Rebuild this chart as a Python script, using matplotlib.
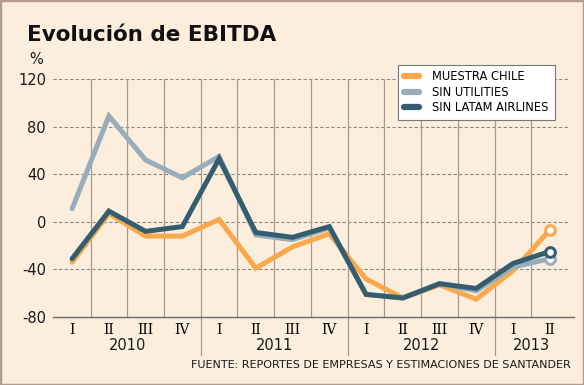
import matplotlib.pyplot as plt
from matplotlib.patches import Rectangle
import numpy as np

quarters = ['I', 'II', 'III', 'IV', 'I', 'II', 'III', 'IV', 'I', 'II', 'III', 'IV', 'I', 'II']
years = ['2010', '2011', '2012', '2013']
year_centers = [1.5, 5.5, 9.5, 12.5]

muestra_chile = [-34, 7, -12, -12, 2, -39, -21, -10, -48, -64, -53, -65, -41, -7]
sin_utilities = [11, 89, 52, 37, 55, -11, -15, -5, -61, -64, -52, -58, -38, -31]
sin_latam = [-31, 9, -8, -4, 53, -9, -13, -4, -61, -64, -52, -56, -35, -25]

series = [
    ('MUESTRA CHILE', muestra_chile, '#f9a94b'),
    ('SIN UTILITIES', sin_utilities, '#98adbb'),
    ('SIN LATAM AIRLINES', sin_latam, '#355d70'),
]

BG = '#fbeedc'
fig = plt.figure(figsize=(5.84, 3.85), dpi=100, facecolor=BG)
fig.patches.append(Rectangle((0, 0), 1, 1, transform=fig.transFigure, fill=False,
                             edgecolor='#b39c8c', linewidth=2.5))

ax = fig.add_axes([0.0908, 0.1766, 0.882, 0.618])
ax.set_facecolor(BG)
x = np.arange(len(quarters))
ax.set_xlim(-0.52, 13.5)
ax.set_ylim(-80, 120)

for yv in [120, 80, 40, 0, -40]:
    ax.axhline(yv, color='#8a8580', linestyle=(0, (3, 2)), linewidth=0.8, zorder=1)
for xv in np.arange(0.5, 13.5, 1.0):
    ax.axvline(xv, color='#a59a90', linewidth=0.9, zorder=1)
# year separators extend below the axis
for xv in [3.5, 7.5, 11.5]:
    ax.plot([xv, xv], [-80, -112], color='#a59a90', linewidth=0.9, clip_on=False)

# draw order: light, dark, orange on top
for i in [1, 2, 0]:
    name, vals, col = series[i]
    ax.plot(x, vals, color=col, linewidth=3.6, solid_capstyle='round',
            solid_joinstyle='miter', zorder=3 + i)
for i in [1, 2, 0]:
    name, vals, col = series[i]
    ax.plot(x[-1], vals[-1], 'o', markersize=7, markerfacecolor='white',
            markeredgecolor=col, markeredgewidth=2.2, zorder=10, clip_on=False)

for s in ['top', 'right', 'left']:
    ax.spines[s].set_visible(False)
ax.spines['bottom'].set_color('#6b6b6b')
ax.spines['bottom'].set_linewidth(1.0)
ax.spines['bottom'].set_bounds(-0.52, 13.65)

ax.set_yticks([120, 80, 40, 0, -40, -80])
ax.set_yticklabels(['120', '80', '40', '0', '-40', '-80'])
ax.tick_params(axis='y', length=0, pad=5, labelsize=10.5, labelcolor='#1a1a1a')
ax.set_xticks(x)
ax.set_xticklabels(quarters, family='DejaVu Serif', fontsize=10)
ax.tick_params(axis='x', length=0, pad=4)

for yr, xc in zip(years, year_centers):
    ax.text(xc, -104, yr, ha='center', va='center', fontsize=10.5, color='#1a1a1a')

handles = [plt.Line2D([], [], color=col, linewidth=4.5, solid_capstyle='round')
           for _, _, col in series]
leg = ax.legend(handles, [s[0] for s in series], loc='upper right',
                bbox_to_anchor=(0.985, 1.085), fontsize=8.3, frameon=True,
                fancybox=False, handlelength=1.3, handletextpad=1.2,
                labelspacing=0.2, borderpad=0.5)
leg.get_frame().set_edgecolor('#777777')
leg.get_frame().set_linewidth(0.8)
leg.get_frame().set_facecolor('white')
leg.get_frame().set_alpha(1)
leg.set_zorder(20)

fig.text(0.046, 0.908, 'Evolución de EBITDA', fontsize=15.5, fontweight='bold',
         va='center', ha='left', color='#111111')
fig.text(0.05, 0.845, '%', fontsize=10.5, va='center', ha='left', color='#1a1a1a')
fig.text(0.977, 0.052, 'FUENTE: REPORTES DE EMPRESAS Y ESTIMACIONES DE SANTANDER',
         fontsize=8, ha='right', va='center', color='#1a1a1a')

fig.savefig('out.png', dpi=100, facecolor=BG)
